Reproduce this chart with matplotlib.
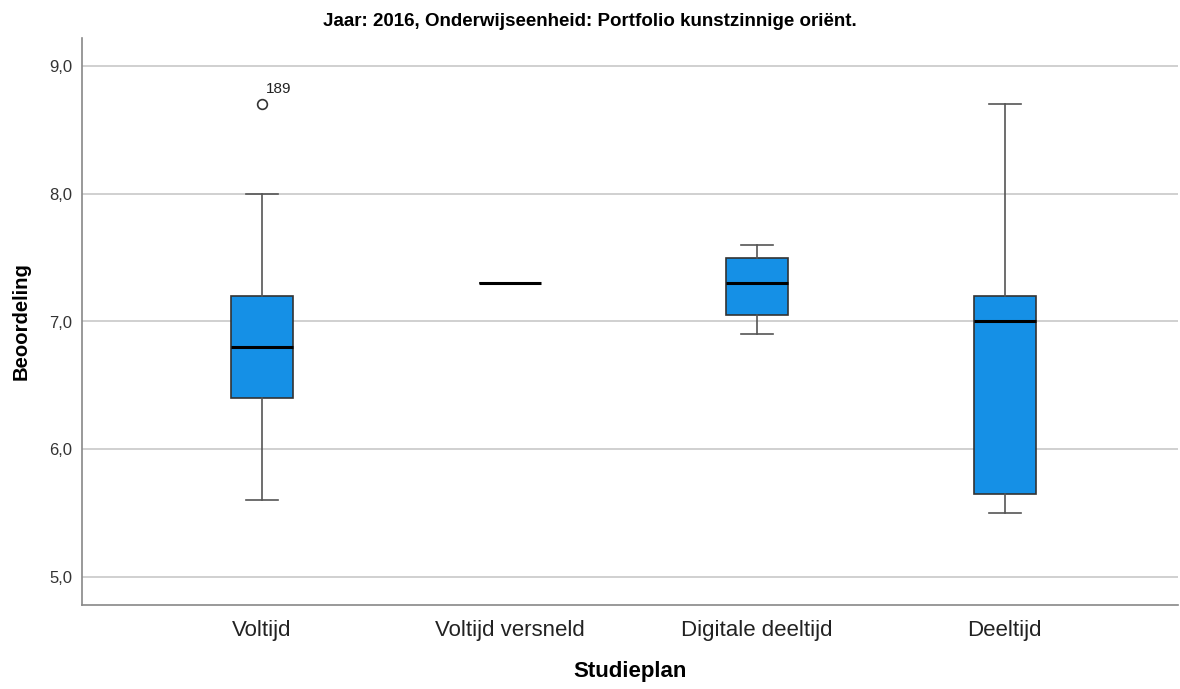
import matplotlib
matplotlib.use('Agg')
import matplotlib.pyplot as plt

plt.rcParams['font.family'] = ['Liberation Sans', 'DejaVu Sans']

# Studieplan categories and box statistics
categories = ['Voltijd', 'Voltijd versneld', 'Digitale deeltijd', 'Deeltijd']
whisker_low = [5.6, 7.3, 6.9, 5.5]
q1 = [6.4, 7.3, 7.05, 5.65]
median = [6.8, 7.3, 7.3, 7.0]
q3 = [7.2, 7.3, 7.5, 7.2]
whisker_high = [8.0, 7.3, 7.6, 8.7]
outliers = [[8.7], [], [], []]
outlier_ids = [['189'], [], [], []]

yticks = [5.0, 6.0, 7.0, 8.0, 9.0]

stats = []
for i, name in enumerate(categories):
    stats.append({'label': name, 'whislo': whisker_low[i], 'q1': q1[i], 'med': median[i],
                  'q3': q3[i], 'whishi': whisker_high[i], 'fliers': outliers[i]})

fig = plt.figure(figsize=(11.8, 6.89), dpi=100)
ax = fig.add_axes([82 / 1180, 84 / 689, 1096 / 1180, 567 / 689])

positions = list(range(1, len(categories) + 1))
ax.bxp(stats, positions=positions, widths=0.25, patch_artist=True, capwidths=0.13,
       boxprops=dict(facecolor='#1590E6', edgecolor='#333333', linewidth=1.2),
       medianprops=dict(color='black', linewidth=2.2),
       whiskerprops=dict(color='#555555', linewidth=1.2),
       capprops=dict(color='#555555', linewidth=1.2),
       flierprops=dict(marker='o', markerfacecolor='white', markeredgecolor='#333333',
                       markersize=7, markeredgewidth=1.2))

for i, vals in enumerate(outliers):
    for v, lab in zip(vals, outlier_ids[i]):
        ax.annotate(lab, (positions[i], v), xytext=(3, 8), textcoords='offset points',
                    fontsize=11, color='#222222')

ax.set_xlim(0.273, 4.70)
ax.set_ylim(4.78, 9.22)
ax.set_yticks(yticks)
ax.set_yticklabels([f'{t:.1f}'.replace('.', ',') for t in yticks], fontsize=12, color='#333333')
ax.set_xticks(positions)
ax.set_xticklabels(categories, fontsize=16, color='#222222')
ax.tick_params(axis='both', length=0, pad=7)
ax.tick_params(axis='x', pad=11)

ax.yaxis.grid(True, color='#C8C8C8', linewidth=1.2)
ax.set_axisbelow(True)
for s in ['top', 'right']:
    ax.spines[s].set_visible(False)
for s in ['left', 'bottom']:
    ax.spines[s].set_color('#888888')
    ax.spines[s].set_linewidth(1.2)

ax.set_xlabel('Studieplan', fontsize=16, fontweight='bold', labelpad=14)
ax.set_ylabel('Beoordeling', fontsize=14.6, fontweight='bold', labelpad=13)
fig.text(0.5, 1 - 21 / 689, 'Jaar: 2016, Onderwijseenheid: Portfolio kunstzinnige oriënt.',
         ha='center', va='center', fontsize=13.5, fontweight='bold')

fig.savefig('out.png', dpi=100, facecolor='white')
